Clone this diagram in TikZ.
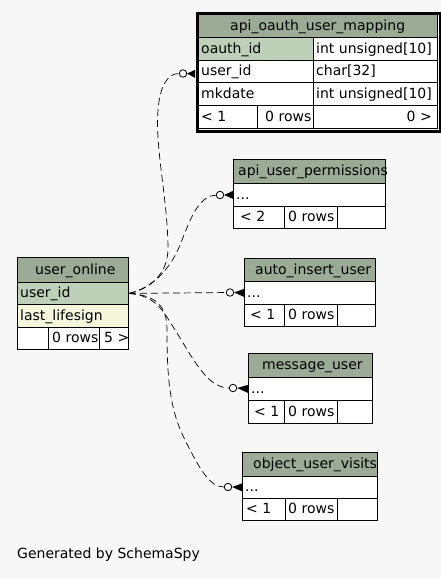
\documentclass[tikz,border=0pt]{standalone}
\usepackage{fontspec}
\setmainfont{DejaVu Sans}
\usetikzlibrary{calc}
\definecolor{bgc}{HTML}{F7F7F7}
\definecolor{hdrc}{HTML}{9BAB96}
\definecolor{pkc}{HTML}{BED1B8}
\definecolor{idxc}{HTML}{F5F7DD}
\begin{document}
\begin{tikzpicture}[x=1pt,y=-1pt,
  cell/.style={draw=black, line width=0.8pt, inner sep=0pt, anchor=north west, rectangle, fill=white},
  hdr/.style={cell, fill=hdrc},
  pk/.style={cell, fill=pkc},
  idx/.style={cell, fill=idxc},
  lbl/.style={inner sep=0pt, anchor=base west, font=\fontsize{14}{16}\selectfont},
  lblr/.style={lbl, anchor=base east},
  rel/.style={dash pattern=on 7pt off 4pt, line width=0.7pt},
  zc/.style={circle, draw, line width=0.8pt, fill=bgc, minimum size=7.5pt, inner sep=0pt},
  crow/.style={fill=black}
]
\useasboundingbox[fill=bgc] (0,0) rectangle (441,579);

% user_online
\node[hdr, minimum width=111pt, minimum height=25pt] (uoH) at (17,257) {};
\node[lbl] (uoHt) at (35,274) {user\_online};
\node[pk, minimum width=111pt, minimum height=22pt] (uoA) at (17,282) {};
\node[lbl] (uoAt) at (20,297.5) {user\_id};
\node[idx, minimum width=111pt, minimum height=23pt] (uoB) at (17,304) {};
\node[lbl] (uoBt) at (20,320) {last\_lifesign};
\node[cell, minimum width=31pt, minimum height=22pt] (uoF1) at (17,327) {};
\node[cell, minimum width=51pt, minimum height=22pt] (uoF2) at (48,327) {};
\node[cell, minimum width=29pt, minimum height=22pt] (uoF3) at (99,327) {};
\node[lbl] (uoF2t) at (52,342.5) {0 rows};
\node[lbl] (uoF3t) at (104,342.5) {5 >};

% api_oauth_user_mapping
\node[hdr, minimum width=240pt, minimum height=24pt] (aoH) at (197,13) {};
\node[lbl] (aoHt) at (230,30) {api\_oauth\_user\_mapping};
\node[pk, minimum width=116pt, minimum height=23pt] (aoA1) at (197,37) {};
\node[cell, minimum width=124pt, minimum height=23pt] (aoA2) at (313,37) {};
\node[lbl] (aoA1t) at (201,53) {oauth\_id};
\node[lbl] (aoA2t) at (316,53) {int unsigned[10]};
\node[cell, minimum width=116pt, minimum height=22pt] (aoB1) at (197,60) {};
\node[cell, minimum width=124pt, minimum height=22pt] (aoB2) at (313,60) {};
\node[lbl] (aoB1t) at (201,75.5) {user\_id};
\node[lbl] (aoB2t) at (316,75.5) {char[32]};
\node[cell, minimum width=116pt, minimum height=23pt] (aoC1) at (197,82) {};
\node[cell, minimum width=124pt, minimum height=23pt] (aoC2) at (313,82) {};
\node[lbl] (aoC1t) at (201,98) {mkdate};
\node[lbl] (aoC2t) at (316,98) {int unsigned[10]};
\node[cell, minimum width=60pt, minimum height=23pt] (aoF1) at (197,105) {};
\node[cell, minimum width=56pt, minimum height=23pt] (aoF2) at (257,105) {};
\node[cell, minimum width=124pt, minimum height=23pt] (aoF3) at (313,105) {};
\node[lbl] (aoF1t) at (201,121) {< 1};
\node[lbl] (aoF2t) at (265,121) {0 rows};
\node[lblr] (aoF3t) at (432,121) {0 >};
\node[draw, line width=3pt, inner sep=0pt, minimum width=242.5pt, minimum height=118pt, anchor=north west] (aoFrame) at (196,12) {};

% api_user_permissions
\node[hdr, minimum width=152pt, minimum height=24pt] (apH) at (233,159) {};
\node[lbl] (apHt) at (238,175.5) {api\_user\_permissions};
\node[cell, minimum width=152pt, minimum height=23pt] (apA) at (233,183) {};
\node[lbl] (apAt) at (236,199) {...};
\node[cell, minimum width=51pt, minimum height=22pt] (apF1) at (233,206) {};
\node[cell, minimum width=53pt, minimum height=22pt] (apF2) at (284,206) {};
\node[cell, minimum width=48pt, minimum height=22pt] (apF3) at (337,206) {};
\node[lbl] (apF1t) at (240,221.5) {< 2};
\node[lbl] (apF2t) at (288,221.5) {0 rows};

% auto_insert_user
\node[hdr, minimum width=131pt, minimum height=23pt] (aiH) at (244,258) {};
\node[lbl] (aiHt) at (255,274) {auto\_insert\_user};
\node[cell, minimum width=131pt, minimum height=23pt] (aiA) at (244,281) {};
\node[lbl] (aiAt) at (247,297) {...};
\node[cell, minimum width=40pt, minimum height=22pt] (aiF1) at (244,304) {};
\node[cell, minimum width=53pt, minimum height=22pt] (aiF2) at (284,304) {};
\node[cell, minimum width=38pt, minimum height=22pt] (aiF3) at (337,304) {};
\node[lbl] (aiF1t) at (250,319.5) {< 1};
\node[lbl] (aiF2t) at (288,319.5) {0 rows};

% message_user
\node[hdr, minimum width=124pt, minimum height=24pt] (muH) at (248,353) {};
\node[lbl] (muHt) at (262,369.5) {message\_user};
\node[cell, minimum width=124pt, minimum height=23pt] (muA) at (248,377) {};
\node[lbl] (muAt) at (251,393) {...};
\node[cell, minimum width=36pt, minimum height=23pt] (muF1) at (248,400) {};
\node[cell, minimum width=53pt, minimum height=23pt] (muF2) at (284,400) {};
\node[cell, minimum width=35pt, minimum height=23pt] (muF3) at (337,400) {};
\node[lbl] (muF1t) at (254,416) {< 1};
\node[lbl] (muF2t) at (288,416) {0 rows};

% object_user_visits
\node[hdr, minimum width=135pt, minimum height=24pt] (ovH) at (242,452) {};
\node[lbl] (ovHt) at (253,468.5) {object\_user\_visits};
\node[cell, minimum width=135pt, minimum height=22pt] (ovA) at (242,476) {};
\node[lbl] (ovAt) at (245,491.5) {...};
\node[cell, minimum width=43pt, minimum height=22pt] (ovF1) at (242,498) {};
\node[cell, minimum width=52pt, minimum height=22pt] (ovF2) at (285,498) {};
\node[cell, minimum width=40pt, minimum height=22pt] (ovF3) at (337,498) {};
\node[lbl] (ovF1t) at (246,513.5) {< 1};
\node[lbl] (ovF2t) at (288,513.5) {0 rows};

% connectors: zero-or-many ends
\node[zc] (c1) at (183,73.5) {};
\node[zc] (c2) at (220,195) {};
\node[zc] (c3) at (230,292.5) {};
\node[zc] (c4) at (233,388) {};
\node[zc] (c5) at (228,487) {};

\draw[rel] (uoA.east) .. controls (150,288) and (167,275) .. (168,250) .. controls (168,200) and (155,150) .. (158,110) .. controls (160,85) and (168,73.5) .. (c1);
\draw[rel] (uoA.east) .. controls (150,290) and (170,270) .. (180,245) .. controls (190,220) and (198,196) .. (c2);
\draw[rel] (uoA.east) -- (c3);
\draw[rel] (uoA.east) .. controls (150,295) and (160,305) .. (170,322) .. controls (190,352) and (205,388) .. (c4);
\draw[rel] (uoA.east) .. controls (155,295) and (167,305) .. (167,330) .. controls (167,380) and (170,410) .. (185,440) .. controls (200,470) and (210,487) .. (c5);

\fill[crow] (c1.east) -- ($(aoB1.west)+(-2,-1.5)$) -- ($(aoB1.west)+(-2,6.5)$) -- cycle;
\fill[crow] (c2.east) -- ($(apA.west)+(0,-4)$) -- ($(apA.west)+(0,4)$) -- cycle;
\fill[crow] (c3.east) -- ($(aiA.west)+(0,-4)$) -- ($(aiA.west)+(0,4)$) -- cycle;
\fill[crow] (c4.east) -- ($(muA.west)+(0,-4)$) -- ($(muA.west)+(0,4)$) -- cycle;
\fill[crow] (c5.east) -- ($(ovA.west)+(0,-4)$) -- ($(ovA.west)+(0,4)$) -- cycle;

\node[lbl] (gen) at (17,558) {Generated by SchemaSpy};
\end{tikzpicture}
\end{document}
